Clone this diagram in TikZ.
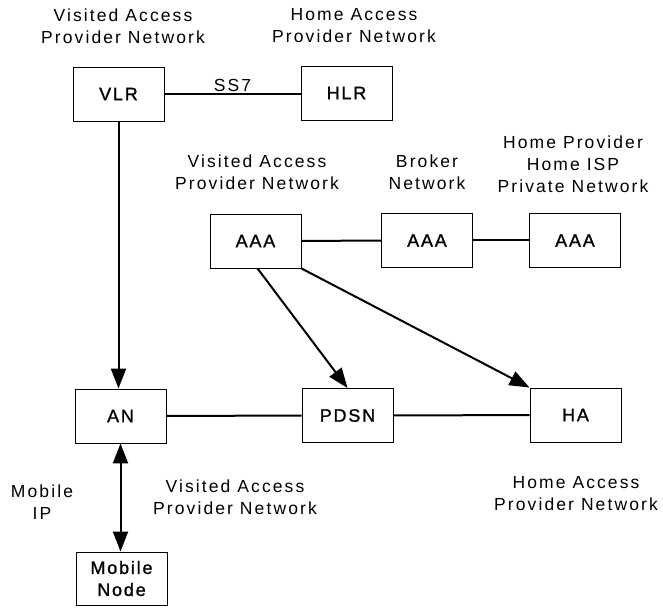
\documentclass[tikz,border=0pt]{standalone}
\usepackage{fontspec}
\setmainfont{Liberation Sans}[LetterSpace=12]
\newfontfamily\boxfont{Liberation Sans}[LetterSpace=10, FakeBold=1.2]
\usetikzlibrary{arrows.meta}
\begin{document}
\begin{tikzpicture}[x=1pt,y=-1pt,
  font=\fontsize{17.5}{22}\selectfont,
  box/.style={draw, line width=0.9pt, minimum width=91pt, minimum height=54pt,
    inner sep=0pt, align=center, font=\boxfont\fontsize{18}{22}\selectfont},
  lbl/.style={align=center, inner sep=0pt},
  conn/.style={line width=2pt},
  tip/.tip={Triangle[length=20pt,width=15pt]},
  arr/.style={conn, -tip},
  dblarr/.style={conn, tip-tip}]
\useasboundingbox (0,0) rectangle (663,609);

% network elements
\node[box] (vlr)  at (118.5,94)  {VLR};
\node[box] (hlr)  at (346.5,93)  {HLR};
\node[box] (aaa1) at (255.5,241) {AAA};
\node[box] (aaa2) at (427,240.5) {AAA};
\node[box] (aaa3) at (575,240.5) {AAA};
\node[box] (an)   at (120.5,416) {AN};
\node[box] (pdsn) at (347.5,415.5) {PDSN};
\node[box] (ha)   at (575.5,415) {HA};
\node[box, minimum height=53pt] (mn) at (121.5,578.5) {Mobile\\Node};

% domain labels
\node[lbl] (t1) at (123,26)  {Visited Access\\Provider Network};
\node[lbl] (t2) at (354,26)  {Home Access\\Provider Network};
\node[lbl] (t3) at (257,172) {Visited Access\\Provider Network};
\node[lbl] (t4) at (427,172) {Broker\\Network};
\node[lbl] (t5) at (573,164) {Home Provider\\Home ISP\\Private Network};
\node[lbl] (t6) at (42,502)  {Mobile\\IP};
\node[lbl] (t7) at (235,497) {Visited Access\\Provider Network};
\node[lbl] (t8) at (576,494) {Home Access\\Provider Network};

% links
\draw[conn] (vlr.east) -- node[above=1pt, inner sep=0pt] (ss7) {SS7} (vlr.east -| hlr.west);
\draw[conn] (aaa1) -- (aaa2);
\draw[conn] (aaa2) -- (aaa3);
\draw[conn] (an) -- (pdsn);
\draw[conn] (pdsn) -- (ha);
\draw[arr] (vlr.south) -- (vlr.south |- an.north);
\draw[arr] ([xshift=2pt]aaa1.south) -- (pdsn.north);
\draw[arr] (aaa1.south east) -- (ha.north west);
\draw[dblarr] (an.south) -- (an.south |- mn.north);
\end{tikzpicture}
\end{document}
